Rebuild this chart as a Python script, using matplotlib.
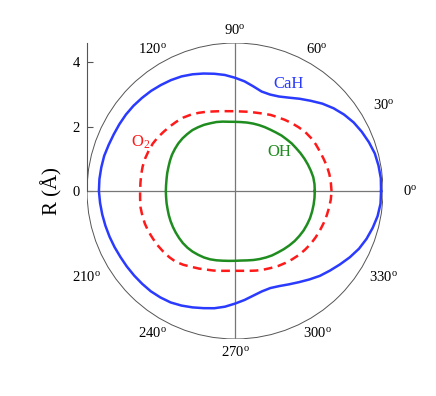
import numpy as np
import matplotlib
matplotlib.use("Agg")
import matplotlib.pyplot as plt
from matplotlib.patches import Circle

plt.rcParams['font.family'] = ['Liberation Serif', 'DejaVu Serif']
plt.rcParams['mathtext.fontset'] = 'custom'
plt.rcParams['mathtext.rm'] = 'Liberation Serif'
plt.rcParams['mathtext.it'] = 'Liberation Serif:italic'

# 각도 0~355도 (5도 간격), 반지름(Å) - 그림에서 읽은 값
theta = np.arange(0, 360, 5)

cah_r = [4.54, 4.55, 4.53, 4.50, 4.43, 4.35, 4.26, 4.14, 4.00, 3.84, 3.66, 3.50,
         3.35, 3.24, 3.19, 3.20, 3.30, 3.42, 3.52, 3.62, 3.70, 3.78, 3.86, 3.93,
         3.98, 4.02, 4.06, 4.09, 4.12, 4.14, 4.15, 4.16, 4.18, 4.21, 4.22, 4.23,
         4.23, 4.21, 4.19, 4.17, 4.15, 4.13, 4.11, 4.10, 4.09, 4.08, 4.07, 4.04,
         4.00, 3.93, 3.85, 3.77, 3.70, 3.61, 3.50, 3.40, 3.30, 3.23, 3.21, 3.26,
         3.35, 3.46, 3.59, 3.73, 3.85, 3.98, 4.12, 4.25, 4.35, 4.43, 4.50, 4.54]

o2_r = [3.00, 2.99, 2.98, 2.96, 2.93, 2.91, 2.90, 2.88, 2.85, 2.80, 2.75, 2.70,
        2.65, 2.61, 2.56, 2.52, 2.50, 2.48, 2.48, 2.49, 2.52, 2.56, 2.62, 2.68,
        2.74, 2.79, 2.82, 2.85, 2.88, 2.92, 2.95, 2.96, 2.97, 2.97, 2.96, 2.95,
        2.95, 2.96, 2.98, 2.98, 2.98, 2.97, 2.95, 2.94, 2.92, 2.90, 2.87, 2.80,
        2.72, 2.66, 2.60, 2.56, 2.52, 2.49, 2.48, 2.49, 2.52, 2.56, 2.60, 2.64,
        2.69, 2.73, 2.77, 2.81, 2.84, 2.87, 2.89, 2.91, 2.93, 2.95, 2.97, 2.99]

oh_r = [2.48, 2.48, 2.47, 2.44, 2.41, 2.38, 2.35, 2.32, 2.30, 2.27, 2.25, 2.22,
        2.20, 2.19, 2.18, 2.17, 2.16, 2.15, 2.15, 2.16, 2.19, 2.22, 2.24, 2.27,
        2.29, 2.31, 2.31, 2.31, 2.30, 2.28, 2.26, 2.23, 2.20, 2.18, 2.16, 2.15,
        2.15, 2.15, 2.16, 2.17, 2.19, 2.21, 2.23, 2.25, 2.27, 2.29, 2.30, 2.30,
        2.29, 2.28, 2.26, 2.23, 2.20, 2.18, 2.17, 2.17, 2.19, 2.22, 2.25, 2.28,
        2.31, 2.33, 2.36, 2.39, 2.42, 2.44, 2.46, 2.47, 2.48, 2.48, 2.48, 2.48]

angle_ticks = [0, 30, 60, 90, 120, 210, 240, 270, 300, 330]
r_ticks = [0, 2, 4]
R_MAX = 4.6


def to_xy(th, r):
    t = np.deg2rad(np.append(th, th[0]))
    rr = np.append(r, r[0])
    return rr * np.cos(t), rr * np.sin(t)


fig = plt.figure(figsize=(4.36, 3.96), dpi=100)
ax = fig.add_axes([87 / 436, 57 / 396, 296 / 436, 296 / 396])
ax.set_xlim(-R_MAX, R_MAX)
ax.set_ylim(-R_MAX, R_MAX)
ax.set_aspect('equal')

# 외곽 원 + 십자선
ax.add_patch(Circle((0, 0), R_MAX, fill=False, edgecolor='#555555', lw=0.7))
ax.plot([-R_MAX, R_MAX], [0, 0], color='#777777', lw=0.9)
ax.plot([0, 0], [-R_MAX, R_MAX], color='#777777', lw=0.9)

# 곡선
x, y = to_xy(theta, cah_r)
ax.plot(x, y, color='#2a3bff', lw=1.8, solid_joinstyle='round')
x, y = to_xy(theta, o2_r)
ax.plot(x, y, color='#ff1a1a', lw=1.8, linestyle=(0, (3.5, 2.2)))
x, y = to_xy(theta, oh_r)
ax.plot(x, y, color='#1f8c1f', lw=1.8, solid_joinstyle='round')

# 각도 라벨
for a in angle_ticks:
    t = np.deg2rad(a)
    rl = 5.0 + 0.45 * np.cos(t) ** 2
    ax.text(rl * np.cos(t), rl * np.sin(t), f'{a}' + r'$^{\mathrm{o}}$',
            ha='center', va='center', fontsize=10.5, clip_on=False)

# 곡선 이름
ax.text(1.65, 3.32, 'CaH', color='#2a3bff', fontsize=12, ha='center', va='center')
ax.text(-2.92, 1.52, r'O$_2$', color='#ff1a1a', fontsize=12, ha='center', va='center')
ax.text(1.37, 1.21, 'OH', color='#1f8c1f', fontsize=12, ha='center', va='center')

# 축 스타일
for s in ['top', 'right', 'bottom']:
    ax.spines[s].set_visible(False)
ax.spines['left'].set_bounds(0, R_MAX)
ax.spines['left'].set_color('#555555')
ax.spines['left'].set_linewidth(0.8)
ax.set_xticks([])
ax.set_yticks(r_ticks)
ax.tick_params(axis='y', direction='in', length=4, width=0.8, color='#555555',
               labelsize=10.5, pad=5)
ax.set_ylabel('R (Å)', fontsize=15)
ax.yaxis.set_label_coords(-(87 - 62) / 296, 0.5)

fig.savefig('out.png', dpi=100)
